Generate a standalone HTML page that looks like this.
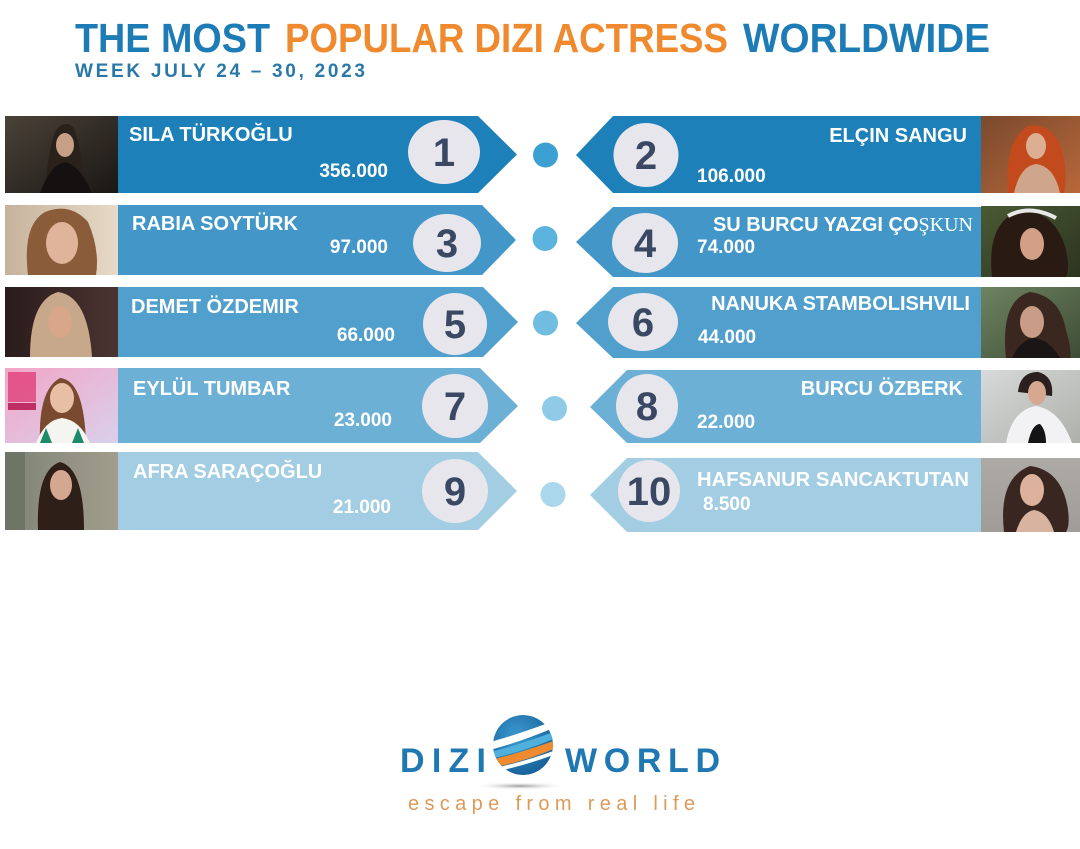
<!DOCTYPE html>
<html>
<head>
<meta charset="utf-8">
<style>
  html,body{margin:0;padding:0;background:#fff;}
  svg{display:block;}
  .nm{font-family:"Liberation Sans",sans-serif;font-weight:bold;font-size:20px;fill:#fff;}
  .val{font-family:"Liberation Sans",sans-serif;font-weight:bold;font-size:19px;fill:#fff;}
  .num{font-family:"Liberation Sans",sans-serif;font-weight:bold;font-size:40px;fill:#3a4864;}
</style>
</head>
<body>
<svg width="1080" height="849" viewBox="0 0 1080 849" xmlns="http://www.w3.org/2000/svg">
  <defs>
    <linearGradient id="p1" x1="0" y1="0" x2="1" y2="1"><stop offset="0" stop-color="#4a4238"/><stop offset="1" stop-color="#1a1714"/></linearGradient>
    <linearGradient id="p2" x1="0" y1="0" x2="1" y2="0"><stop offset="0" stop-color="#c7b39c"/><stop offset="1" stop-color="#e6d9c6"/></linearGradient>
    <linearGradient id="p3" x1="0" y1="0" x2="1" y2="0"><stop offset="0" stop-color="#2a1c1c"/><stop offset="1" stop-color="#4a3430"/></linearGradient>
    <linearGradient id="p4" x1="0" y1="0" x2="1" y2="1"><stop offset="0" stop-color="#f2a6c6"/><stop offset="1" stop-color="#d9d0ec"/></linearGradient>
    <linearGradient id="p5" x1="0" y1="0" x2="1" y2="0"><stop offset="0" stop-color="#7f8476"/><stop offset="1" stop-color="#a29d8c"/></linearGradient>
    <linearGradient id="q1" x1="0" y1="0" x2="1" y2="1"><stop offset="0" stop-color="#7a4a2e"/><stop offset="1" stop-color="#b8683a"/></linearGradient>
    <linearGradient id="q2" x1="0" y1="0" x2="1" y2="1"><stop offset="0" stop-color="#4a5a34"/><stop offset="1" stop-color="#2c3420"/></linearGradient>
    <linearGradient id="q3" x1="0" y1="0" x2="1" y2="1"><stop offset="0" stop-color="#6e8460"/><stop offset="1" stop-color="#3e4c36"/></linearGradient>
    <linearGradient id="q4" x1="0" y1="0" x2="1" y2="1"><stop offset="0" stop-color="#d8dadb"/><stop offset="1" stop-color="#aeb0aa"/></linearGradient>
    <linearGradient id="q5" x1="0" y1="0" x2="0" y2="1"><stop offset="0" stop-color="#adaaa6"/><stop offset="1" stop-color="#a09c98"/></linearGradient>
    <radialGradient id="glb" cx="0.4" cy="0.35" r="0.7"><stop offset="0" stop-color="#3b9ad0"/><stop offset="1" stop-color="#165f98"/></radialGradient>
    <radialGradient id="shd" cx="0.5" cy="0.5" r="0.5"><stop offset="0" stop-color="#9a9a9a"/><stop offset="1" stop-color="#ffffff" stop-opacity="0"/></radialGradient>
    <clipPath id="gclip"><circle cx="523" cy="745" r="30"/></clipPath>
  </defs>

  <!-- Header -->
  <g font-family="Liberation Sans, sans-serif" font-weight="bold" font-size="41">
    <text x="75" y="52" fill="#1d7cb6" textLength="195" lengthAdjust="spacingAndGlyphs">THE MOST</text>
    <text x="285" y="52" fill="#f08a2e" textLength="443" lengthAdjust="spacingAndGlyphs">POPULAR DIZI ACTRESS</text>
    <text x="743" y="52" fill="#1d7cb6" textLength="247" lengthAdjust="spacingAndGlyphs">WORLDWIDE</text>
  </g>
  <text x="75" y="77" font-family="Liberation Sans, sans-serif" font-weight="bold" font-size="19" fill="#2a78a8" textLength="290" lengthAdjust="spacing">WEEK JULY 24 – 30, 2023</text>

  <!-- ===== LEFT ROWS ===== -->
  <!-- Row 1 -->
  <polygon points="118,116 478,116 517,154.5 478,193 118,193" fill="#1e80b9"/>
  <rect x="5" y="116" width="113" height="77" fill="url(#p1)"/>
  <path d="M45,193 Q48,150 55,132 Q64,118 74,128 Q82,150 86,193 Z" fill="#2a211b"/>
  <ellipse cx="65" cy="145" rx="9" ry="12" fill="#c79e86"/>
  <path d="M40,193 Q50,165 65,162 Q80,165 92,193 Z" fill="#141110"/>
  <text class="nm" x="129" y="141">SILA TÜRKOĞLU</text>
  <text class="val" x="388" y="177" text-anchor="end">356.000</text>
  <ellipse cx="444" cy="152" rx="36" ry="32" fill="#e6e6ec"/>
  <text class="num" x="444" y="166" text-anchor="middle">1</text>
  <circle cx="545.5" cy="155" r="12.5" fill="#3ca0d2"/>

  <!-- Row 2 -->
  <polygon points="118,205 482,205 516,240 482,275 118,275" fill="#4296c8"/>
  <rect x="5" y="205" width="113" height="70" fill="url(#p2)"/>
  <path d="M28,275 Q22,225 45,212 Q70,202 88,222 Q100,250 96,275 Z" fill="#8a5c3a"/>
  <ellipse cx="62" cy="243" rx="16" ry="21" fill="#e0b49a"/>
  <text class="nm" x="132" y="230">RABIA SOYTÜRK</text>
  <text class="val" x="388" y="253" text-anchor="end">97.000</text>
  <ellipse cx="447" cy="243" rx="34" ry="29" fill="#e6e6ec"/>
  <text class="num" x="447" y="257" text-anchor="middle">3</text>
  <circle cx="545" cy="238.5" r="12.5" fill="#5cb4de"/>

  <!-- Row 3 -->
  <polygon points="118,287 483,287 518,322 483,357 118,357" fill="#519fcc"/>
  <rect x="5" y="287" width="113" height="70" fill="url(#p3)"/>
  <path d="M30,357 Q30,300 58,292 Q88,296 92,357 Z" fill="#c7a88a"/>
  <ellipse cx="60" cy="322" rx="12" ry="16" fill="#d8a688"/>
  <text class="nm" x="131" y="313">DEMET ÖZDEMIR</text>
  <text class="val" x="395" y="341" text-anchor="end">66.000</text>
  <ellipse cx="455" cy="324" rx="32" ry="31" fill="#e6e6ec"/>
  <text class="num" x="455" y="338" text-anchor="middle">5</text>
  <circle cx="545.5" cy="323" r="12.5" fill="#70bde1"/>

  <!-- Row 4 -->
  <polygon points="118,368 480,368 518,406 480,443 118,443" fill="#6cb0d5"/>
  <rect x="5" y="368" width="113" height="75" fill="url(#p4)"/>
  <rect x="8" y="372" width="28" height="30" fill="#e0407a" opacity="0.8"/>
  <rect x="8" y="403" width="28" height="7" fill="#c02e66"/>
  <path d="M40,443 Q38,390 60,378 Q84,380 86,443 Z" fill="#7a4a30"/>
  <ellipse cx="62" cy="398" rx="12" ry="15" fill="#e8bfa5"/>
  <path d="M36,443 Q45,420 62,418 Q80,420 90,443 Z" fill="#f4f4f0"/>
  <path d="M40,443 L46,428 L52,443 Z M72,443 L78,428 L84,443 Z" fill="#1f8a6a"/>
  <text class="nm" x="133" y="395">EYLÜL TUMBAR</text>
  <text class="val" x="392" y="426" text-anchor="end">23.000</text>
  <ellipse cx="455" cy="406" rx="33" ry="32" fill="#e6e6ec"/>
  <text class="num" x="455" y="420" text-anchor="middle">7</text>
  <circle cx="554.5" cy="408.5" r="12.5" fill="#8fcbe6"/>

  <!-- Row 5 -->
  <polygon points="118,452 478,452 517,491 478,530 118,530" fill="#a3cde3"/>
  <rect x="5" y="452" width="113" height="78" fill="url(#p5)"/>
  <rect x="5" y="452" width="20" height="78" fill="#6f7566"/>
  <path d="M38,530 Q36,470 60,462 Q84,468 84,530 Z" fill="#2e2019"/>
  <ellipse cx="61" cy="485" rx="11" ry="15" fill="#d4a890"/>
  <text class="nm" x="133" y="478">AFRA SARAÇOĞLU</text>
  <text class="val" x="391" y="513" text-anchor="end">21.000</text>
  <ellipse cx="455" cy="491" rx="33" ry="32" fill="#e6e6ec"/>
  <text class="num" x="455" y="505" text-anchor="middle">9</text>
  <circle cx="553" cy="494.5" r="12.5" fill="#abd7ec"/>

  <!-- ===== RIGHT ROWS ===== -->
  <!-- Row 1 -->
  <polygon points="981,116 613,116 576,155 613,193 981,193" fill="#1e80b9"/>
  <rect x="981" y="116" width="99" height="77" fill="url(#q1)"/>
  <path d="M1008,193 Q1004,140 1028,126 Q1052,122 1062,150 Q1068,175 1064,193 Z" fill="#c24a1c"/>
  <ellipse cx="1036" cy="146" rx="10" ry="13" fill="#dcae92"/>
  <path d="M1014,193 Q1020,166 1036,164 Q1054,166 1060,193 Z" fill="#cfa68c"/>
  <text class="nm" x="967" y="142" text-anchor="end">ELÇIN SANGU</text>
  <text class="val" x="697" y="182">106.000</text>
  <ellipse cx="646" cy="155" rx="32.5" ry="32" fill="#e6e6ec"/>
  <text class="num" x="646" y="169" text-anchor="middle">2</text>

  <!-- Row 2 -->
  <polygon points="981,207 613,207 576,242 613,277 981,277" fill="#4296c8"/>
  <rect x="981" y="206" width="99" height="71" fill="url(#q2)"/>
  <path d="M992,277 Q986,220 1022,210 Q1056,212 1066,250 Q1070,268 1066,277 Z" fill="#2a1a14"/>
  <ellipse cx="1032" cy="244" rx="12" ry="16" fill="#d2a086"/>
  <path d="M1008,216 Q1030,204 1056,218" stroke="#e8e8e8" stroke-width="4" fill="none"/>
  <text class="nm" x="973" y="231" text-anchor="end">SU BURCU YAZGI ÇO<tspan font-family="Liberation Serif, serif" font-weight="normal">ŞKUN</tspan></text>
  <text class="val" x="697" y="253">74.000</text>
  <ellipse cx="645" cy="243" rx="33" ry="30" fill="#e6e6ec"/>
  <text class="num" x="645" y="257" text-anchor="middle">4</text>

  <!-- Row 3 -->
  <polygon points="981,287 613,287 576,323 613,358 981,358" fill="#519fcc"/>
  <rect x="981" y="287" width="99" height="71" fill="url(#q3)"/>
  <path d="M1006,358 Q1000,300 1030,292 Q1060,296 1066,330 Q1072,350 1070,358 Z" fill="#3a2820"/>
  <ellipse cx="1032" cy="322" rx="12" ry="16" fill="#c89c86"/>
  <path d="M1012,358 Q1020,340 1034,338 Q1050,340 1060,358 Z" fill="#1a1616"/>
  <text class="nm" x="970" y="310" text-anchor="end">NANUKA STAMBOLISHVILI</text>
  <text class="val" x="698" y="343">44.000</text>
  <ellipse cx="643" cy="322" rx="35" ry="29" fill="#e6e6ec"/>
  <text class="num" x="643" y="336" text-anchor="middle">6</text>

  <!-- Row 4 -->
  <polygon points="981,370 627,370 590,407 627,443 981,443" fill="#6cb0d5"/>
  <rect x="981" y="370" width="99" height="73" fill="url(#q4)"/>
  <path d="M1018,392 Q1020,372 1038,372 Q1054,376 1052,396 Z" fill="#2a2020"/>
  <ellipse cx="1037" cy="393" rx="9" ry="12" fill="#d6a890"/>
  <path d="M1006,443 Q1012,410 1036,406 Q1060,410 1072,443 Z" fill="#f2f2f4"/>
  <path d="M1028,443 Q1032,424 1040,424 Q1046,430 1046,443 Z" fill="#141414"/>
  <text class="nm" x="963" y="395" text-anchor="end">BURCU ÖZBERK</text>
  <text class="val" x="697" y="428">22.000</text>
  <ellipse cx="647" cy="406" rx="31" ry="32" fill="#e6e6ec"/>
  <text class="num" x="647" y="420" text-anchor="middle">8</text>

  <!-- Row 5 -->
  <polygon points="981,458 627,458 590,495 627,532 981,532" fill="#a3cde3"/>
  <rect x="981" y="458" width="99" height="74" fill="url(#q5)"/>
  <path d="M1004,532 Q998,478 1030,466 Q1062,470 1068,510 Q1070,526 1066,532 Z" fill="#3a2620"/>
  <ellipse cx="1032" cy="490" rx="12" ry="16" fill="#dcb29c"/>
  <path d="M1016,532 Q1022,512 1034,510 Q1048,512 1054,532 Z" fill="#d8b4a0"/>
  <text class="nm" x="969" y="486" text-anchor="end" textLength="272" lengthAdjust="spacingAndGlyphs">HAFSANUR SANCAKTUTAN</text>
  <text class="val" x="703" y="510">8.500</text>
  <ellipse cx="649" cy="491" rx="31" ry="31" fill="#e6e6ec"/>
  <text class="num" x="649" y="505" text-anchor="middle">10</text>

  <!-- ===== LOGO ===== -->
  <ellipse cx="520" cy="786" rx="48" ry="4" fill="url(#shd)"/>
  <g font-family="Liberation Sans, sans-serif" font-weight="bold" font-size="34" fill="#1f78b2">
    <text x="400" y="772" textLength="86" lengthAdjust="spacing">DIZI</text>
    <text x="565" y="772" textLength="155" lengthAdjust="spacing">WORLD</text>
  </g>
  <g clip-path="url(#gclip)">
    <circle cx="523" cy="745" r="30" fill="url(#glb)"/>
    <path d="M490,742 Q520,734 556,720 L556,727 Q520,742 490,750 Z" fill="#ffffff"/>
    <path d="M490,752 Q522,744 556,731 L556,738 Q522,752 490,759 Z" fill="#4fb0dc"/>
    <path d="M490,760 Q524,752 556,740 L556,748 Q524,762 490,768 Z" fill="#f08a2e"/>
    <path d="M490,769 Q524,762 556,750 L556,754 Q524,766 490,773 Z" fill="#ffffff"/>
  </g>
  <text x="408" y="810" font-family="Liberation Sans, sans-serif" font-size="20" fill="#dc9a58" textLength="287" lengthAdjust="spacing">escape from real life</text>
</svg>
</body>
</html>
